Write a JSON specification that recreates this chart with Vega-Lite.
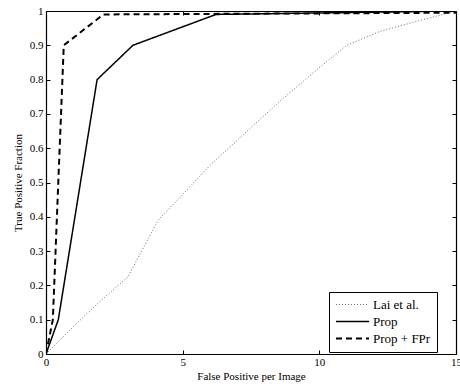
{
  "$schema": "https://vega.github.io/schema/vega-lite/v6.json",
  "width": 410,
  "height": 343,
  "autosize": {"type": "none"},
  "padding": {"left": 46, "top": 11, "right": 4, "bottom": 33},
  "background": "white",
  "config": {
    "view": {"stroke": null},
    "font": "Liberation Serif",
    "axis": {
      "domainColor": "black",
      "domainWidth": 1.2,
      "tickColor": "black",
      "tickSize": -4,
      "tickWidth": 1,
      "grid": false,
      "labelFlush": false,
      "labelOverlap": false,
      "labelFont": "Liberation Serif",
      "labelFontSize": 11,
      "labelColor": "black",
      "titleFont": "Liberation Serif",
      "titleFontSize": 11,
      "titleFontWeight": "normal",
      "titleColor": "black"
    },
    "legend": {
      "labelFont": "Liberation Serif",
      "labelFontSize": 13,
      "labelColor": "black"
    }
  },
  "datasets": {
    "curves": [
      {"series": "Lai et al.", "fp": 0, "tp": 0},
      {"series": "Lai et al.", "fp": 1, "tp": 0.08},
      {"series": "Lai et al.", "fp": 2, "tp": 0.155},
      {"series": "Lai et al.", "fp": 3, "tp": 0.225},
      {"series": "Lai et al.", "fp": 3.5, "tp": 0.3},
      {"series": "Lai et al.", "fp": 4.1, "tp": 0.39},
      {"series": "Lai et al.", "fp": 5, "tp": 0.465},
      {"series": "Lai et al.", "fp": 6, "tp": 0.55},
      {"series": "Lai et al.", "fp": 7.5, "tp": 0.66},
      {"series": "Lai et al.", "fp": 8.6, "tp": 0.74},
      {"series": "Lai et al.", "fp": 10, "tp": 0.835},
      {"series": "Lai et al.", "fp": 11, "tp": 0.9},
      {"series": "Lai et al.", "fp": 12.2, "tp": 0.94},
      {"series": "Lai et al.", "fp": 13.8, "tp": 0.975},
      {"series": "Lai et al.", "fp": 15, "tp": 1},
      {"series": "Prop", "fp": 0, "tp": 0},
      {"series": "Prop", "fp": 0.45, "tp": 0.1},
      {"series": "Prop", "fp": 1.87, "tp": 0.8},
      {"series": "Prop", "fp": 3.18, "tp": 0.9},
      {"series": "Prop", "fp": 6.22, "tp": 0.99},
      {"series": "Prop", "fp": 15, "tp": 1},
      {"series": "Prop + FPr", "fp": 0, "tp": 0},
      {"series": "Prop + FPr", "fp": 0.25, "tp": 0.1},
      {"series": "Prop + FPr", "fp": 0.65, "tp": 0.9},
      {"series": "Prop + FPr", "fp": 2.1, "tp": 0.99},
      {"series": "Prop + FPr", "fp": 15, "tp": 0.995}
    ]
  },
  "data": {"name": "curves"},
  "layer": [
    {
      "mark": {"type": "line", "clip": true},
      "encoding": {
        "x": {
          "field": "fp", "type": "quantitative",
          "scale": {"domain": [0, 15], "nice": false, "zero": false},
          "axis": {"values": [0, 5, 10, 15], "title": "False Positive per Image", "labelPadding": 6, "titlePadding": 3, "orient": "bottom"}
        },
        "y": {
          "field": "tp", "type": "quantitative",
          "scale": {"domain": [0, 1], "nice": false},
          "axis": {"values": [0, 0.1, 0.2, 0.3, 0.4, 0.5, 0.6, 0.7, 0.8, 0.9, 1], "format": "~g", "title": "True Positive Fraction", "labelPadding": 7, "titlePadding": 6, "orient": "left"}
        },
        "color": {
          "field": "series", "type": "nominal",
          "scale": {"domain": ["Lai et al.", "Prop", "Prop + FPr"], "range": ["#6e6e6e", "black", "black"]},
          "legend": {
            "title": null,
            "orient": "none",
            "legendX": 283,
            "legendY": 281,
            "symbolType": "M-3,0H3",
            "symbolSize": 121,
            "symbolOffset": 11,
            "strokeColor": "black",
            "fillColor": "white",
            "padding": 6,
            "rowPadding": 3,
            "labelOffset": 14
          }
        },
        "strokeDash": {
          "field": "series", "type": "nominal",
          "scale": {"domain": ["Lai et al.", "Prop", "Prop + FPr"], "range": [[1, 2], [1, 0], [6, 4]]}
        },
        "strokeWidth": {
          "field": "series", "type": "nominal",
          "scale": {"domain": ["Lai et al.", "Prop", "Prop + FPr"], "range": [1, 2, 2]}
        }
      }
    },
    {
      "mark": {"type": "point", "opacity": 0},
      "encoding": {
        "x": {
          "field": "fp", "type": "quantitative",
          "axis": {"values": [0, 5, 10, 15], "orient": "top", "labels": false, "title": null}
        },
        "y": {
          "field": "tp", "type": "quantitative",
          "axis": {"values": [0, 0.1, 0.2, 0.3, 0.4, 0.5, 0.6, 0.7, 0.8, 0.9, 1], "orient": "right", "labels": false, "title": null}
        }
      }
    }
  ],
  "resolve": {"axis": {"x": "independent", "y": "independent"}}
}
